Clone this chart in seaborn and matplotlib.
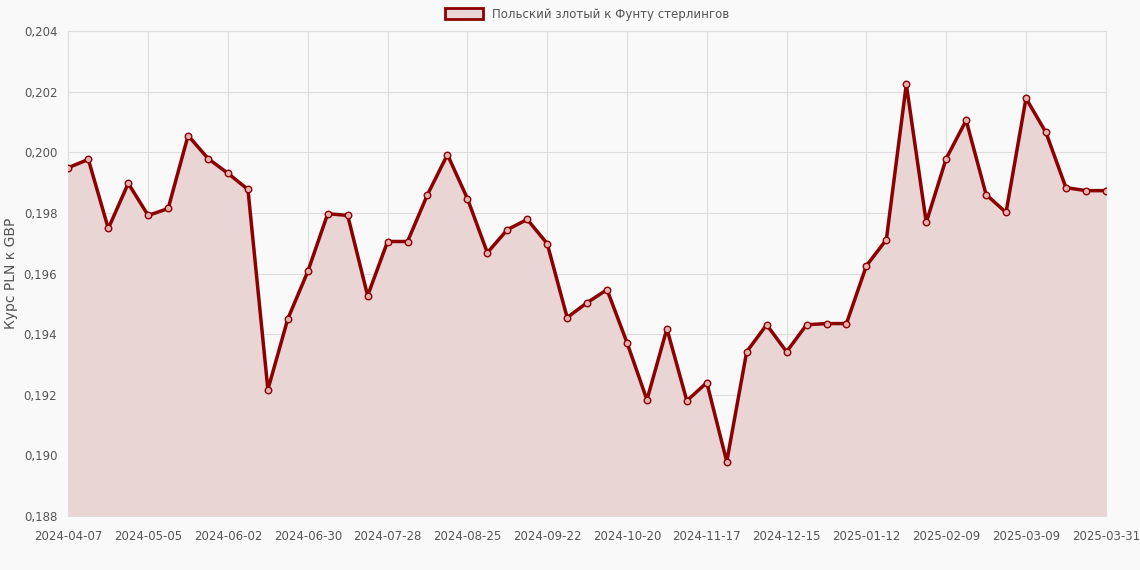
import matplotlib
matplotlib.use("Agg")
import matplotlib.pyplot as plt
import seaborn as sns
import pandas as pd
from matplotlib.patches import Patch

values = [0.19950,0.19977,0.19749,0.19898,0.19792,0.19815,0.20056,0.19980,0.19931,0.19878,
          0.19217,0.19451,0.19607,0.19798,0.19792,0.19527,0.19706,0.19706,0.19861,0.19993,
          0.19848,0.19669,0.19745,0.19779,0.19699,0.19455,0.19504,0.19547,0.19372,0.19183,
          0.19418,0.19180,0.19240,0.18979,0.19342,0.19431,0.19342,0.19431,0.19435,0.19435,
          0.19626,0.19712,0.20225,0.19769,0.19980,0.20106,0.19861,0.19802,0.20179,0.20066,
          0.19884,0.19874,0.19874]
tick_labels = ["2024-04-07","2024-05-05","2024-06-02","2024-06-30","2024-07-28","2024-08-25",
               "2024-09-22","2024-10-20","2024-11-17","2024-12-15","2025-01-12","2025-02-09",
               "2025-03-09","2025-03-31"]
tick_pos = [0,4,8,12,16,20,24,28,32,36,40,44,48,52]

df = pd.DataFrame({"i": range(len(values)), "v": values})
sns.set_style("white")
plt.rcParams['font.family'] = ['DejaVu Sans']
fig, ax = plt.subplots(figsize=(11.4, 5.7), dpi=100)
fig.patch.set_facecolor("#f9f9f9")
ax.set_facecolor("#f9f9f9")
c = "#8b0000"
ax.fill_between(df["i"], df["v"], 0.188, color="#ead5d5", zorder=1)
sns.lineplot(data=df, x="i", y="v", ax=ax, color=c, lw=2.5, zorder=3)
ax.scatter(df["i"], df["v"], s=22, facecolor="#e8b0b0", edgecolor=c, lw=1, zorder=4)
ax.set_xlim(0, 52)
ax.set_ylim(0.188, 0.204)
ax.set_xticks(tick_pos)
ax.set_xticklabels(tick_labels, fontsize=8.5, color="#555")
yt = [0.188 + 0.002*k for k in range(9)]
ax.set_yticks(yt)
ax.set_yticklabels([f"{v:.3f}".replace(".", ",") for v in yt], fontsize=8.5, color="#555")
ax.grid(True, color="#dddddd", lw=0.8, zorder=0)
for s in ax.spines.values():
    s.set_color("#dddddd")
ax.tick_params(axis="x", length=0, pad=10)
ax.tick_params(axis="y", length=0, pad=8)
ax.set_xlabel("")
ax.set_ylabel("Курс PLN к GBP", fontsize=10, color="#555")
ax.legend(handles=[Patch(facecolor="#ead5d5", edgecolor=c, lw=2)],
          labels=["Польский злотый к Фунту стерлингов"], loc="lower center",
          bbox_to_anchor=(0.5, 1.0), frameon=False, fontsize=8.5, labelcolor="#555",
          handlelength=3.2, handleheight=1.0)
fig.subplots_adjust(left=0.06, right=0.97, top=0.945, bottom=0.095)
fig.savefig("out.png", dpi=100, facecolor=fig.get_facecolor())
